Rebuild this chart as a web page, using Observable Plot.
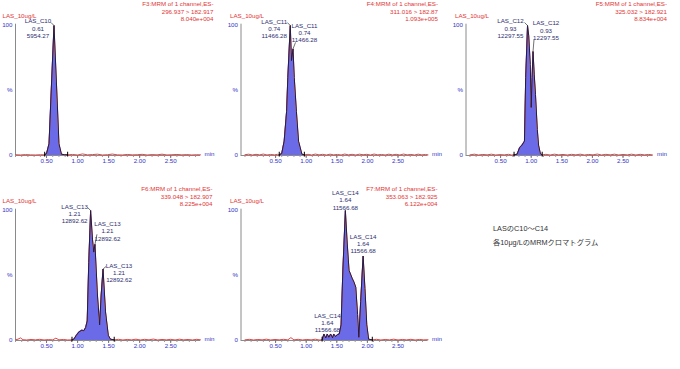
<!DOCTYPE html>
<html><head><meta charset="utf-8">
<script src="https://cdn.jsdelivr.net/npm/d3@7"></script>
<script src="https://cdn.jsdelivr.net/npm/@observablehq/plot@0.6"></script>
<style>
body{margin:0;background:#fff}
#root{position:relative;width:680px;height:369px;overflow:hidden;background:#fff}
#root svg{position:absolute}
.note{position:absolute;left:493px;font-size:7.3px;color:#333;font-family:"Liberation Sans","Noto Sans CJK JP",sans-serif;white-space:nowrap;line-height:1}
</style></head><body><div id="root"></div>
<script>
// ---- data ----
const sampleName = "LAS_10ug/L";
const channels = ["F3:MRM of 1 channel,ES-","F4:MRM of 1 channel,ES-","F5:MRM of 1 channel,ES-","F6:MRM of 1 channel,ES-","F7:MRM of 1 channel,ES-"];
const transitions = ["296.937 > 182.917","311.016 > 182.87","325.032 > 182.921","339.048 > 182.907","353.063 > 182.925"];
const intensities = ["8.040e+004","1.093e+005","8.834e+004","8.225e+004","6.122e+004"];
const xTicks = [0.5, 1.0, 1.5, 2.0, 2.5];
const xTickLabels = ["0.50","1.00","1.50","2.00","2.50"];
const yTicks = [100, 50, 0];
const yTickLabels = ["100","%","0"];
const xUnit = "min";

// chromatogram traces [time (min), relative intensity (%)]
const c10Trace = [[0,0.6],[0.08,0.4],[0.16,0.7],[0.24,0.5],[0.32,0.4],[0.40,0.6],[0.47,0.5],[0.50,1.5],[0.54,9],[0.58,55],[0.62,100],[0.66,55],[0.70,9],[0.74,1],[0.79,0.6],[0.84,0.5],[0.92,0.8],[1.00,0.4],[1.08,1.2],[1.16,0.5],[1.24,0.7],[1.32,1.0],[1.40,0.4],[1.48,0.6],[1.56,1.1],[1.64,0.5],[1.72,0.4],[1.80,0.8],[1.88,0.5],[1.96,0.6],[2.04,0.9],[2.12,0.4],[2.20,0.7],[2.28,0.5],[2.36,1.0],[2.44,0.4],[2.52,0.6],[2.60,0.8],[2.68,0.5],[2.76,0.7],[2.84,0.4],[2.92,0.6],[2.98,0.5]];
const c11Trace = [[0,0.6],[0.06,1.0],[0.12,0.4],[0.18,0.9],[0.24,0.5],[0.30,1.1],[0.36,0.4],[0.42,0.8],[0.48,0.5],[0.53,0.9],[0.56,0.5],[0.60,1.5],[0.64,11],[0.68,34],[0.70,60],[0.74,100],[0.76,73],[0.785,82],[0.805,60],[0.84,34],[0.875,11],[0.93,1],[0.97,0.5],[1.03,0.9],[1.09,0.4],[1.15,1.1],[1.21,0.5],[1.27,0.9],[1.33,0.4],[1.39,1.0],[1.45,0.5],[1.51,0.8],[1.57,0.4],[1.63,1.1],[1.69,0.5],[1.75,0.9],[1.81,0.4],[1.87,1.0],[1.93,0.6],[1.99,0.9],[2.05,0.4],[2.11,1.1],[2.17,0.5],[2.23,0.8],[2.29,0.4],[2.35,1.0],[2.41,0.5],[2.47,0.9],[2.53,0.4],[2.59,1.1],[2.65,0.5],[2.71,0.8],[2.77,0.4],[2.83,1.0],[2.89,0.5],[2.95,0.8],[2.99,0.5]];
const c12Trace = [[0,0.5],[0.07,1.0],[0.14,0.4],[0.21,0.8],[0.28,0.5],[0.35,1.0],[0.42,0.4],[0.49,0.7],[0.56,0.5],[0.63,0.9],[0.68,0.4],[0.72,0.5],[0.77,1],[0.81,6],[0.85,8],[0.89,11],[0.91,60],[0.94,100],[0.96,92],[0.985,70],[1.00,37],[1.015,60],[1.03,80],[1.05,62],[1.07,47],[1.10,20],[1.12,8],[1.15,1.5],[1.18,0.5],[1.24,0.9],[1.31,0.4],[1.38,1.0],[1.45,0.5],[1.52,0.8],[1.59,0.4],[1.66,0.9],[1.73,0.5],[1.80,1.0],[1.87,0.4],[1.94,0.8],[2.01,0.5],[2.08,1.1],[2.15,0.4],[2.22,0.9],[2.29,0.5],[2.36,1.0],[2.43,0.4],[2.50,0.8],[2.57,0.5],[2.64,1.0],[2.71,0.4],[2.78,0.9],[2.85,0.5],[2.92,0.8],[2.98,0.5]];
const c13Trace = [[0,0.5],[0.04,1.0],[0.08,2.0],[0.12,0.6],[0.18,0.4],[0.25,0.8],[0.32,0.5],[0.39,0.9],[0.46,0.4],[0.53,0.7],[0.60,0.5],[0.65,1.8],[0.70,0.5],[0.77,0.8],[0.84,0.4],[0.91,0.5],[0.94,1],[0.98,4],[1.02,6.5],[1.07,8],[1.10,7.5],[1.13,10],[1.155,15],[1.18,60],[1.21,100],[1.24,78],[1.26,68],[1.28,74],[1.32,35],[1.355,12],[1.38,35],[1.41,55],[1.45,22],[1.495,4],[1.53,1],[1.59,0.5],[1.66,0.9],[1.73,0.4],[1.80,0.8],[1.87,0.5],[1.94,1.0],[2.01,0.4],[2.08,0.9],[2.15,0.5],[2.22,1.1],[2.29,0.4],[2.36,0.8],[2.43,0.5],[2.50,0.9],[2.57,0.4],[2.64,1.0],[2.71,0.5],[2.78,0.8],[2.85,0.4],[2.92,0.9],[2.98,0.5]];
const c14Trace = [[0,0.5],[0.07,0.9],[0.14,0.4],[0.21,0.8],[0.28,0.5],[0.35,1.0],[0.42,0.4],[0.49,0.8],[0.56,0.5],[0.63,0.9],[0.70,0.5],[0.75,2.2],[0.80,0.5],[0.87,0.9],[0.94,0.4],[1.01,0.8],[1.08,0.5],[1.15,1.0],[1.21,0.4],[1.26,0.5],[1.29,5],[1.32,2],[1.345,5],[1.37,2.5],[1.40,5],[1.43,2],[1.45,5],[1.48,3],[1.51,4.5],[1.54,5],[1.57,12],[1.60,55],[1.64,100],[1.67,75],[1.70,54],[1.75,48],[1.78,45],[1.81,41],[1.84,20],[1.86,2.5],[1.89,30],[1.93,65],[1.96,40],[1.99,12],[2.02,1],[2.08,0.5],[2.15,0.9],[2.22,0.4],[2.29,0.8],[2.36,0.5],[2.43,1.0],[2.50,0.4],[2.57,0.8],[2.64,0.5],[2.71,0.9],[2.78,0.4],[2.85,0.8],[2.92,0.5],[2.99,0.6]];

// integration windows [start, end] (min)
const c10Window = [0.47, 0.84];
const c11Window = [0.56, 0.97];
const c12Window = [0.72, 1.18];
const c13Window = [0.91, 1.59];
const c14Window = [1.26, 2.08];

// peak annotations: anchor time, anchor %, name, RT, area
const c10Peaks = [{t:0.62, v:100, name:"LAS_C10", rt:"0.61", area:"5954.27"}];
const c11Peaks = [{t:0.74, v:100, name:"LAS_C11", rt:"0.74", area:"11466.28"},{t:0.785, v:82, name:"LAS_C11", rt:"0.74", area:"11466.28"}];
const c12Peaks = [{t:0.94, v:100, name:"LAS_C12", rt:"0.93", area:"12297.55"},{t:1.03, v:80, name:"LAS_C12", rt:"0.93", area:"12297.55"}];
const c13Peaks = [{t:1.21, v:100, name:"LAS_C13", rt:"1.21", area:"12892.62"},{t:1.28, v:74, name:"LAS_C13", rt:"1.21", area:"12892.62"},{t:1.41, v:55, name:"LAS_C13", rt:"1.21", area:"12892.62"}];
const c14Peaks = [{t:1.64, v:100, name:"LAS_C14", rt:"1.64", area:"11566.68"},{t:1.93, v:65, name:"LAS_C14", rt:"1.64", area:"11566.68"},{t:1.33, v:5, name:"LAS_C14", rt:"1.64", area:"11566.68"}];

const noteLines = ["LASのC10～C14", "各10μg/LのMRMクロマトグラム"];

// ---- layout ----
const BLUE = "#3434c8", RED = "#e23434", NAVY = "#2e2e70";
// off: label offset [dx, dy] in px; lead: leader end offset [px right, px up] from apex (null = none)
const panels = [
  {trace:c10Trace, win:c10Window, peaks:c10Peaks, i:0, col:0, row:0, off:[[-16,-7.3]], lead:[[-3,3]], hdx:13},
  {trace:c11Trace, win:c11Window, peaks:c11Peaks, i:1, col:1, row:0, off:[[-16,-7],[11.5,-26.4]], lead:[[-3,3],[2.5,6.5]], hdx:10},
  {trace:c12Trace, win:c12Window, peaks:c12Peaks, i:2, col:2, row:0, off:[[-17,-7.3],[13,-31.3]], lead:[[-3,3],[1,12]], hdx:14},
  {trace:c13Trace, win:c13Window, peaks:c13Peaks, i:3, col:0, row:1, off:[[-16,-7],[12.5,-23.5],[16,-6.5]], lead:[[-3,3],[2,10],[3,2.5]], hdx:12},
  {trace:c14Trace, win:c14Window, peaks:c14Peaks, i:4, col:1, row:1, off:[[0,-20.7],[0,-22.5],[1,-21.5]], lead:[null,null,null], hdx:9.5}
];

const root = document.getElementById("root");
const fx = d => d[0], fy = d => d[1];

for (const p of panels) {
  const xd = p.col === 0 ? [0, 2.98] : [-0.065, 2.99];
  const xr = p.col === 0 ? [15, 200] : [15.5, 202.5];
  const pxPerMin = (xr[1] - xr[0]) / (xd[1] - xd[0]);
  const pxPerPct = 130 / 100;
  const inWin = p.trace.filter(d => d[0] >= p.win[0] && d[0] <= p.win[1]);
  const leaders = p.peaks.map((d, k) => p.lead[k] ? {x1: d.t, y1: d.v, x2: d.t + p.lead[k][0] / pxPerMin, y2: d.v + p.lead[k][1] / pxPerPct} : null).filter(Boolean);
  const marks = [
    Plot.ruleY([0], {x1: xd[0], x2: xd[1], stroke: "#8a8a8a", strokeWidth: 1}),
    Plot.ruleX([xd[0]], {y1: 0, y2: 101, stroke: "#8a8a8a", strokeWidth: 1}),
    Plot.axisX({ticks: d3.ticks(0, 2.9, 29), tickSize: 2, tickFormat: () => "", stroke: "#999", label: null}),
    Plot.axisX({ticks: xTicks, tickSize: 3, tickFormat: () => "", stroke: "#777", label: null}),
    Plot.text(xTicks, {x: d => d, frameAnchor: "bottom", dy: 7.5, text: (d, i) => xTickLabels[i], fill: BLUE}),
    Plot.text(yTicks, {x: xd[0], y: d => d, text: (d, i) => yTickLabels[i], textAnchor: "end", dx: -3, fill: BLUE}),
    Plot.text([xUnit], {frameAnchor: "bottom-right", textAnchor: "start", dx: 4, fill: BLUE}),
    Plot.areaY(inWin, {x: fx, y: fy, fill: "#6b6be8", curve: "linear"}),
    Plot.line(p.trace, {x: fx, y: fy, stroke: "#e04848", strokeWidth: 1}),
    Plot.line(inWin, {x: fx, y: fy, stroke: "#1e1e48", strokeWidth: 1}),
    Plot.ruleX(p.win, {y1: -1.2, y2: 2.5, stroke: "#000", strokeWidth: 1}),
    Plot.link(leaders, {x1: "x1", y1: "y1", x2: "x2", y2: "y2", stroke: "#333", strokeWidth: 0.7}),
    Plot.text([sampleName], {frameAnchor: "top-left", textAnchor: "start", dx: p.col === 0 ? -13 : -11, dy: -12.3, fill: RED}),
    Plot.text([channels[p.i] + "\n" + transitions[p.i] + "\n" + intensities[p.i]], {frameAnchor: "top-right", textAnchor: "end", lineAnchor: "top", lineHeight: 1.2, dx: p.hdx, dy: -24.5, fill: RED}),
    ...p.peaks.map((d, k) => Plot.text([d], {x: "t", y: "v", text: e => `${e.name}\n${e.rt}\n${e.area}`, lineAnchor: "top", lineHeight: 1.18, dx: p.off[k][0], dy: p.off[k][1], fill: NAVY}))
  ];
  const svg = Plot.plot({
    width: 225, height: 185,
    marginTop: 25, marginBottom: 30, marginLeft: xr[0], marginRight: 225 - xr[1],
    x: {domain: xd},
    y: {domain: [0, 100], axis: null},
    style: {fontFamily: "'Liberation Sans', Arial, sans-serif", fontSize: "6.2px", background: "transparent", overflow: "visible"},
    marks
  });
  svg.style.left = (p.col * 225) + "px";
  svg.style.top = (p.row * 185) + "px";
  root.appendChild(svg);
}

noteLines.forEach((t, i) => {
  const div = document.createElement("div");
  div.className = "note";
  div.style.top = (i === 0 ? 224.5 : 239) + "px";
  div.textContent = t;
  root.appendChild(div);
});
</script></body></html>
